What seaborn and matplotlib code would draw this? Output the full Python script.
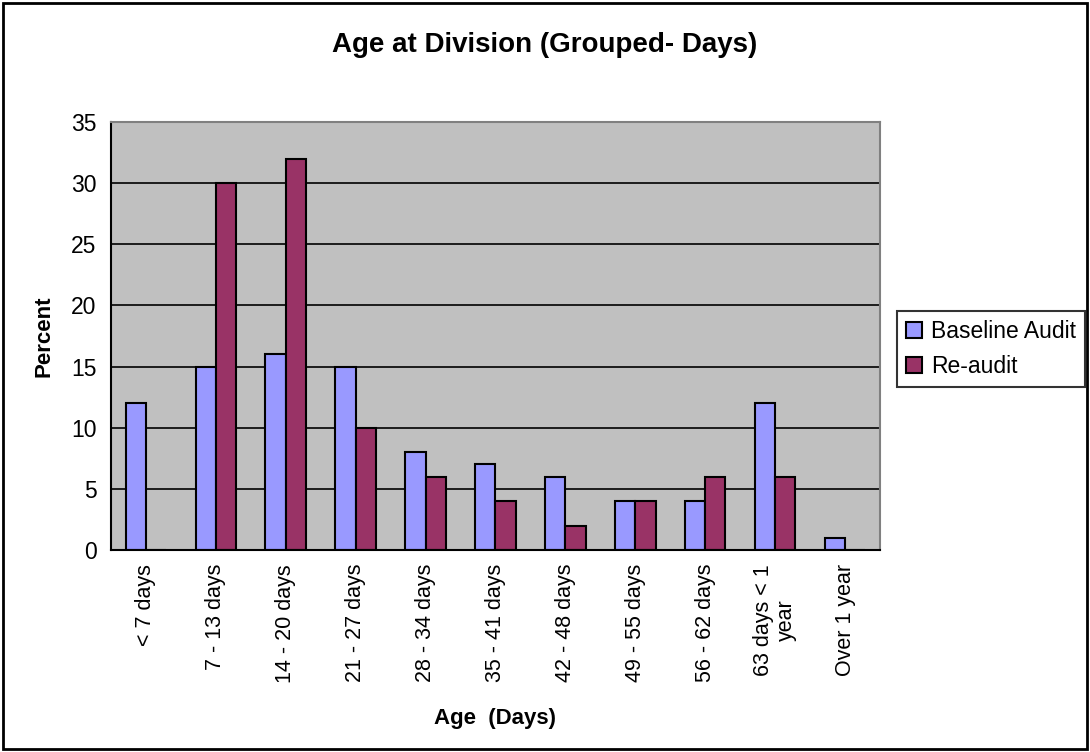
import pandas as pd
import matplotlib
matplotlib.use("Agg")
import matplotlib.pyplot as plt
import seaborn as sns
from matplotlib.patches import Rectangle

categories = ["< 7 days", "7 - 13 days", "14 - 20 days", "21 - 27 days",
              "28 - 34 days", "35 - 41 days", "42 - 48 days", "49 - 55 days",
              "56 - 62 days", "63 days < 1\nyear", "Over 1 year"]
baseline = [12, 15, 16, 15, 8, 7, 6, 4, 4, 12, 1]
reaudit = [0, 30, 32, 10, 6, 4, 2, 4, 6, 6, 0]
series_names = ["Baseline Audit", "Re-audit"]
colors = ["#9999FF", "#993366"]

df = pd.DataFrame({
    "category": categories * 2,
    "value": baseline + reaudit,
    "series": [series_names[0]] * len(categories) + [series_names[1]] * len(categories),
})

sns.set_style("white")
plt.rcParams["font.family"] = ["Liberation Sans", "DejaVu Sans"]
plt.rcParams["text.color"] = "black"
plt.rcParams["axes.labelcolor"] = "black"
plt.rcParams["xtick.color"] = "black"
plt.rcParams["ytick.color"] = "black"

fig = plt.figure(figsize=(10.9, 7.52), dpi=100)
ax = fig.add_axes([0.1018, 0.2686, 0.7055, 0.5692])

sns.barplot(data=df, x="category", y="value", hue="series", order=categories,
            hue_order=series_names, palette=colors, width=0.58, saturation=1,
            edgecolor="black", linewidth=1.5, ax=ax)

ax.set_facecolor("#C0C0C0")
ax.set_ylim(0, 35)
ax.set_xlim(-0.5, len(categories) - 0.5)
ax.set_yticks(range(0, 36, 5))
for y in range(5, 35, 5):
    ax.axhline(y, color="black", linewidth=1.2, zorder=0)

for side in ["left", "bottom"]:
    ax.spines[side].set_color("black")
    ax.spines[side].set_linewidth(1.5)
for side in ["top", "right"]:
    ax.spines[side].set_color("#808080")
    ax.spines[side].set_linewidth(1.5)

ax.set_xticks([i - 0.5 for i in range(len(categories) + 1)], minor=False)
ax.set_xticklabels([])
ax.set_xticks(range(len(categories)), minor=True)
ax.set_xticklabels(categories, minor=True, rotation=90, fontsize=15.5, va="top", ha="center",
                   linespacing=1.15)
ax.tick_params(axis="x", which="major", direction="out", length=7, width=1.5, color="black")
ax.tick_params(axis="x", which="minor", length=0, pad=10)
ax.tick_params(axis="y", direction="out", length=7, width=1.5, color="black", labelsize=16.5)

ax.set_xlabel("Age  (Days)", fontsize=16, fontweight="bold", labelpad=18)
ax.set_ylabel("Percent", fontsize=16, fontweight="bold", labelpad=12)
fig.suptitle("Age at Division (Grouped- Days)", fontsize=20, fontweight="bold", y=0.958)

handles, labels = ax.get_legend_handles_labels()
leg = ax.legend(handles, labels, loc="center left", bbox_to_anchor=(1.022, 0.47),
                fontsize=16.5, frameon=True, fancybox=False, edgecolor="black",
                handlelength=0.7, handleheight=0.7, handletextpad=0.4,
                borderpad=0.4, labelspacing=0.5, borderaxespad=0)
leg.get_frame().set_linewidth(1.5)

fig.patches.append(Rectangle((0.003, 0.004), 0.994, 0.992, transform=fig.transFigure,
                             fill=False, edgecolor="black", linewidth=2))

fig.savefig("out.png", dpi=100)
